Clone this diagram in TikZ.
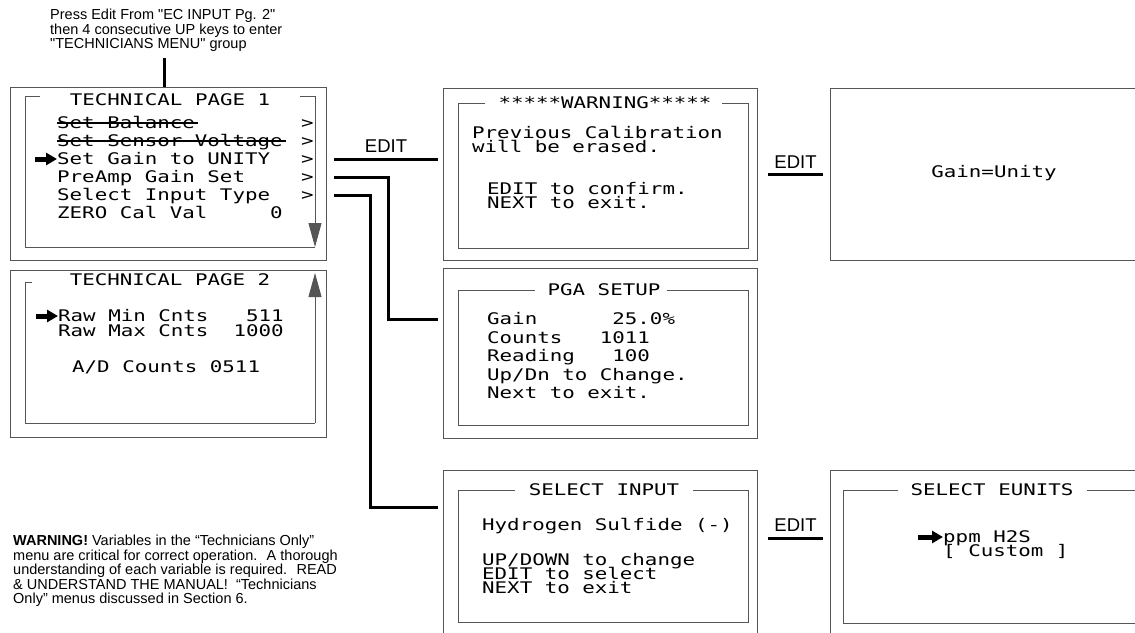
\documentclass[tikz,border=0pt]{standalone}
\usepackage{fontspec}
\setmainfont{Liberation Sans}[Ligatures=TeXOff]
\newfontfamily\lcdface[FakeStretch=1.3]{DejaVu Sans Mono}
\usepackage{tikz}
\usetikzlibrary{arrows.meta,positioning,calc}
\definecolor{framegray}{RGB}{85,85,85}
\newcommand{\screenfont}{\lcdface\fontsize{16}{18}\selectfont}
\newcommand{\remarkfont}{\fontsize{14.5}{14.5}\selectfont}
\newcommand{\keyfont}{\fontsize{18.5}{19}\selectfont}
\tikzset{
  screen/.style={draw=framegray, line width=1pt, anchor=north west, inner sep=0pt},
  frame/.style={draw=framegray, line width=0.9pt},
  lcd/.style={font=\screenfont, inner sep=0pt, anchor=base west, text height=11pt, text depth=0pt},
  lcdtitle/.style={lcd, anchor=base},
  remark/.style={font=\remarkfont, inner sep=0pt, anchor=north west, align=left},
  editlabel/.style={font=\keyfont, inner sep=0pt, above=5pt},
  link/.style={line width=3pt, draw=black},
  pointer/.style={line width=5pt, -{Triangle[length=11pt,width=12pt]}},
  strike/.style={line width=1.3pt},
  scrollarrow/.style={frame, -{Triangle[length=24pt,width=13pt]}}
}

\begin{document}
\begin{tikzpicture}[x=1pt, y=-1pt]
  \useasboundingbox (0,0) rectangle (1135,632);
  \clip (0,0) rectangle (1135,632);

  % how to get into the menu
  \node[remark] (entry) at (50,9) {Press Edit From "EC INPUT Pg. 2"\\then 4 consecutive UP keys to enter\\"TECHNICIANS MENU" group};

  % screen outlines
  \node[screen, minimum width=316pt, minimum height=173pt] (tp1) at (10,87) {};
  \node[screen, minimum width=316pt, minimum height=167pt] (tp2) at (10,270) {};
  \node[screen, minimum width=314pt, minimum height=172pt] (warn) at (443,88) {};
  \node[screen, minimum width=314pt, minimum height=170pt] (pga) at (443,268) {};
  \node[screen, minimum width=314pt, minimum height=200pt] (selin) at (443,470) {};
  \node[screen, minimum width=320pt, minimum height=172pt] (unitybox) at (830,88) {};
  \node[screen, minimum width=320pt, minimum height=200pt] (eunits) at (830,470) {};

  % TECHNICAL PAGE 1
  \draw[frame] (40,96) -- (25,96) -- (25,247) -- (315,247);
  \draw[frame] (300,96) -- (315,96);
  \draw[scrollarrow] (315,96) -- (315,247);
  \node[lcdtitle] (tp1title) at (170,105.5) {TECHNICAL PAGE 1};
  \node[lcd] (bal) at (57,128.5) {Set Balance};
  \node[lcd] (sens) at (57,146.5) {Set Sensor Voltage};
  \node[lcd] (gain) at (57,164.5) {Set Gain to UNITY};
  \node[lcd] (preamp) at (57,182.5) {PreAmp Gain Set};
  \node[lcd] (seltype) at (57,200.5) {Select Input Type};
  \node[lcd] (zero) at (57,218.5) {ZERO Cal Val~~~~~0};
  \node[lcd] (gt1) at (301,128.5) {>};
  \node[lcd] (gt2) at (301,146.5) {>};
  \node[lcd] (gt3) at (301,164.5) {>};
  \node[lcd] (gt4) at (301,182.5) {>};
  \node[lcd] (gt5) at (301,200.5) {>};
  \draw[strike] (bal.west) -- ($(bal.east)+(3,0)$);
  \draw[strike] (sens.west) -- ($(sens.east)+(3,0)$);
  \draw[pointer] ($(gain.west)+(-22,0)$) -- (gain.west);

  % TECHNICAL PAGE 2
  \draw[frame] (32,282) -- (25,282) -- (25,423) -- (315,423);
  \draw[scrollarrow] (315,423) -- (315,273);
  \node[lcdtitle] (tp2title) at (170,285.5) {TECHNICAL PAGE 2};
  \node[lcd] (rawmin) at (58,321.5) {Raw Min Cnts~~~511};
  \node[lcd] (rawmax) at (58,336.5) {Raw Max Cnts~~1000};
  \node[lcd] (adc) at (72,372.5) {A/D Counts 0511};
  \draw[pointer] ($(rawmin.west)+(-22,0)$) -- (rawmin.west);

  % warning screen
  \draw[frame] (485,103) -- (458,103) -- (458,248) -- (748,248) -- (748,103) -- (722,103);
  \node[lcdtitle] (warntitle) at (605,108.5) {*****WARNING*****};
  \node[lcd] (prev) at (472,138.5) {Previous Calibration};
  \node[lcd] (erase) at (472,152.5) {will be erased.};
  \node[lcd] (confirm) at (487,194.5) {EDIT to confirm.};
  \node[lcd] (wexit) at (487,208.5) {NEXT to exit.};

  % gain result
  \node[lcd, anchor=center] (unity) at (994,172) {Gain=Unity};

  % PGA SETUP
  \draw[frame] (535,290) -- (458,290) -- (458,425) -- (748,425) -- (748,290) -- (667,290);
  \node[lcdtitle] (pgatitle) at (604,295.5) {PGA SETUP};
  \node[lcd] (pgagain) at (487,324.5) {Gain~~~~~~25.0\%};
  \node[lcd] (pgacount) at (487,343) {Counts~~~1011};
  \node[lcd] (pgaread) at (487,361.5) {Reading~~~100};
  \node[lcd] (updn) at (487,380) {Up/Dn to Change.};
  \node[lcd] (pgaexit) at (487,398.5) {Next to exit.};

  % SELECT INPUT
  \draw[frame] (515,490) -- (458,490) -- (458,622) -- (748,622) -- (748,490) -- (693,490);
  \node[lcdtitle] (selintitle) at (604,495.5) {SELECT INPUT};
  \node[lcd] (hydro) at (482,530.5) {Hydrogen Sulfide (-)};
  \node[lcd] (updown) at (482,565.5) {UP/DOWN to change};
  \node[lcd] (eselect) at (482,579.5) {EDIT to select};
  \node[lcd] (sexit) at (482,593.5) {NEXT to exit};

  % SELECT EUNITS
  \draw[frame] (898,490) -- (843,490) -- (843,623) -- (1140,623);
  \draw[frame] (1087,490) -- (1140,490);
  \node[lcdtitle] (eutitle) at (992,495.5) {SELECT EUNITS};
  \node[lcd] (ppm) at (943,542.5) {ppm H2S};
  \node[lcd] (custom) at (943,556.5) {[ Custom ]};
  \draw[pointer] ($(ppm.west)+(-25,0)$) -- (ppm.west);

  % connectors
  \draw[link] ($(entry.south)+(-2,6)$) -- ($(entry.south |- tp1.north)+(-2,0)$);
  \draw[link] ($(tp1.east |- gain.west)+(7,0)$) -- ($(warn.west |- gain.west)+(-5,0)$) node[editlabel, midway] {EDIT};
  \draw[link] ($(tp1.east |- preamp.west)+(7,0)$) -| ($(pga.west |- pgagain.west)+(-55,0)$) -- ($(pga.west |- pgagain.west)+(-5,0)$);
  \draw[link] ($(tp1.east |- seltype.west)+(7,0)$) -| ($(selin.north west)+(-73,37)$) -- ($(selin.north west)+(-5,37)$);
  \draw[link] ($(warn.east)+(10,0)$) -- ($(unitybox.west |- warn.east)+(-7,0)$) node[editlabel, midway] {EDIT};
  \draw[link] ($(selin.east |- hydro.west)+(10,13)$) -- ($(eunits.west |- hydro.west)+(-7,13)$) node[editlabel, midway] {EDIT};

  % caution note
  \node[remark] (caution) at (13,535) {\textbf{WARNING!} Variables in the “Technicians Only”\\menu are critical for correct operation.~ A thorough\\understanding of each variable is required.~ READ\\\& UNDERSTAND THE MANUAL!~ “Technicians\\Only” menus discussed in Section 6.};
\end{tikzpicture}
\end{document}
